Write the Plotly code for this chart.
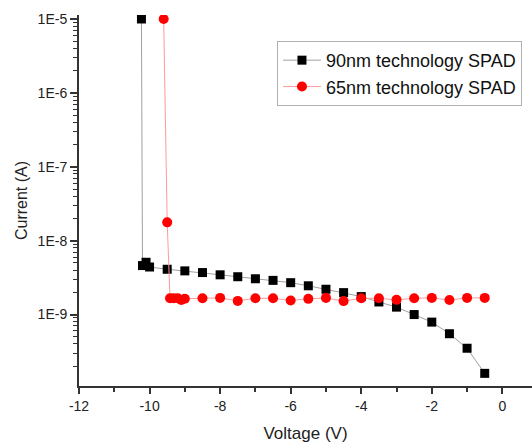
import plotly.graph_objects as go

# ---- data ----
v90 = [-10.23, -10.2, -10.1, -10.0, -9.5, -9.0, -8.5, -8.0, -7.5, -7.0, -6.5, -6.0,
       -5.5, -5.0, -4.5, -4.0, -3.5, -3.0, -2.5, -2.0, -1.5, -1.0, -0.5]
i90 = [1e-5, 4.6e-9, 5.1e-9, 4.4e-9, 4.1e-9, 3.9e-9, 3.7e-9, 3.45e-9, 3.25e-9, 3.05e-9,
       2.9e-9, 2.7e-9, 2.45e-9, 2.2e-9, 1.98e-9, 1.75e-9, 1.48e-9, 1.26e-9, 1.0e-9,
       7.9e-10, 5.5e-10, 3.5e-10, 1.6e-10]

v65 = [-9.6, -9.5, -9.42, -9.32, -9.2, -9.1, -9.0, -8.5, -8.0, -7.5, -7.0, -6.5, -6.0,
       -5.5, -5.0, -4.5, -4.0, -3.5, -3.0, -2.5, -2.0, -1.5, -1.0, -0.5]
i65 = [1e-5, 1.77e-8, 1.66e-9, 1.66e-9, 1.66e-9, 1.57e-9, 1.64e-9, 1.66e-9, 1.68e-9,
       1.53e-9, 1.66e-9, 1.66e-9, 1.55e-9, 1.63e-9, 1.68e-9, 1.52e-9, 1.66e-9, 1.66e-9,
       1.58e-9, 1.66e-9, 1.68e-9, 1.57e-9, 1.68e-9, 1.68e-9]

series_names = ["90nm technology SPAD", "65nm technology SPAD"]

x_tickvals = [-12, -10, -8, -6, -4, -2, 0]
x_ticktext = ["-12", "-10", "-8", "-6", "-4", "-2", "0"]
y_tickvals = [1e-9, 1e-8, 1e-7, 1e-6, 1e-5]
y_ticktext = ["1E-9", "1E-8", "1E-7", "1E-6", "1E-5"]

y_minor = [k * 10.0 ** e for e in range(-10, -4) for k in range(2, 10)]
x_minor = [-11, -9, -7, -5, -3, -1]

FONT = "Liberation Sans, Arial, sans-serif"
AX = "#333333"

fig = go.Figure()
fig.add_trace(go.Scatter(
    x=v90, y=i90, mode="lines+markers", name=series_names[0],
    line=dict(color="#a0a0a0", width=1),
    marker=dict(symbol="square", size=9, color="black"),
))
fig.add_trace(go.Scatter(
    x=v65, y=i65, mode="lines+markers", name=series_names[1],
    line=dict(color="#ff9a9a", width=1),
    marker=dict(symbol="circle", size=10, color="#ff0000"),
))

fig.update_layout(
    width=532, height=443,
    margin=dict(l=79, r=0, t=15, b=57),
    paper_bgcolor="white", plot_bgcolor="white",
    font=dict(family=FONT, color="#222222"),
    showlegend=True,
    legend=dict(
        x=0.437, y=0.93, xanchor="left", yanchor="top",
        bgcolor="white", bordercolor="#b0b0b0", borderwidth=1,
        font=dict(family=FONT, size=18, color="#111111"),
        tracegroupgap=0, itemwidth=38,
    ),
    xaxis=dict(
        range=[-12, 0.84], showgrid=False, zeroline=False, automargin=False,
        showline=True, linecolor=AX, linewidth=2,
        ticks="outside", ticklen=6, tickwidth=2, tickcolor=AX,
        tickmode="array", tickvals=x_tickvals, ticktext=x_ticktext,
        tickfont=dict(size=14, family=FONT, color="#222222"),
        minor=dict(tickmode="array", tickvals=x_minor, ticks="outside",
                   ticklen=4, tickwidth=2, tickcolor=AX, showgrid=False),
        title=dict(text="Voltage (V)", font=dict(size=17, family=FONT, color="#222222")),
    ),
    yaxis=dict(
        type="log", range=[-9.967, -4.946], showgrid=False, zeroline=False, automargin=False,
        showline=True, linecolor=AX, linewidth=2,
        ticks="outside", ticklen=7, tickwidth=2, tickcolor=AX,
        tickmode="array", tickvals=y_tickvals, ticktext=y_ticktext,
        tickfont=dict(size=14, family=FONT, color="#222222"),
        minor=dict(tickmode="array", tickvals=y_minor, ticks="outside",
                   ticklen=4, tickwidth=1, tickcolor=AX, showgrid=False),
        title=dict(text="Current (A)", font=dict(size=16, family=FONT, color="#222222"),
                   standoff=6),
    ),
)

fig.write_html("out.html", config={"displayModeBar": False},
               post_script="document.body.style.margin='0';document.body.style.overflow='hidden';")
